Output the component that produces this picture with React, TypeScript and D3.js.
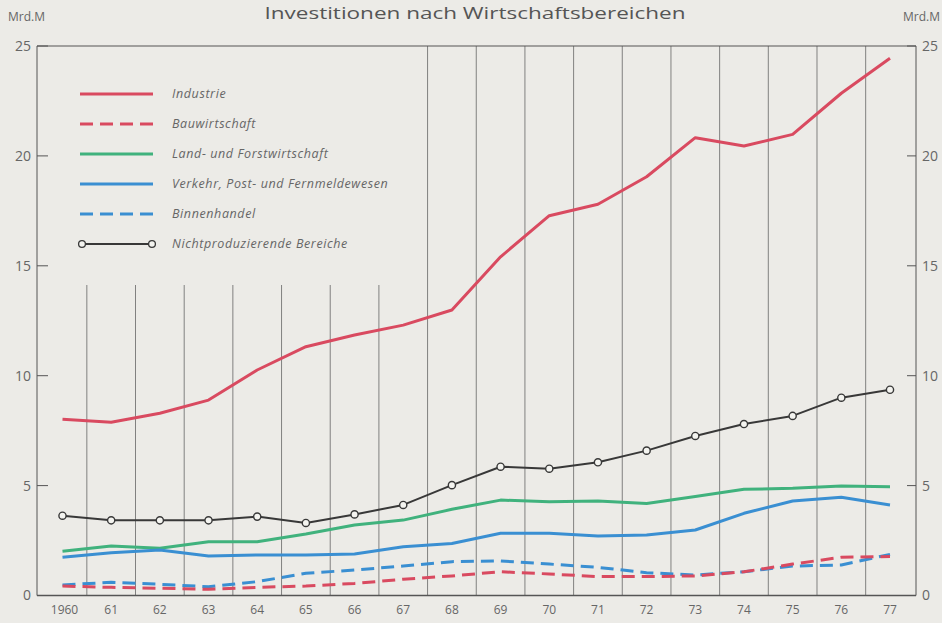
import React from "react";
import * as d3 from "d3";

const years = [1960,1961,1962,1963,1964,1965,1966,1967,1968,1969,1970,1971,1972,1973,1974,1975,1976,1977];
const yearLabels = ["1960","61","62","63","64","65","66","67","68","69","70","71","72","73","74","75","76","77"];
const industrie = [8.02,7.88,8.29,8.89,10.26,11.32,11.85,12.3,12.99,15.41,17.28,17.8,19.05,20.83,20.45,20.98,22.85,24.44];
const bauwirtschaft = [0.43,0.37,0.33,0.28,0.37,0.43,0.55,0.74,0.89,1.08,0.98,0.86,0.86,0.89,1.08,1.43,1.74,1.77];
const landForst = [2.01,2.25,2.15,2.45,2.45,2.8,3.21,3.43,3.92,4.34,4.27,4.3,4.19,4.5,4.83,4.88,4.98,4.95];
const verkehr = [1.74,1.95,2.07,1.8,1.84,1.84,1.89,2.22,2.37,2.83,2.83,2.71,2.75,2.98,3.74,4.3,4.47,4.12];
const binnenhandel = [0.48,0.6,0.51,0.4,0.63,1.01,1.16,1.34,1.54,1.57,1.43,1.28,1.04,0.93,1.08,1.34,1.39,1.87];
const nichtproduzierend = [3.63,3.42,3.42,3.42,3.59,3.3,3.69,4.12,5.02,5.86,5.77,6.06,6.59,7.26,7.8,8.17,9.0,9.36];
const yTicks = [0,5,10,15,20,25];
const gridYears = [1960.5,1961.5,1962.5,1963.5,1964.5,1965.5,1966.5,1967.5,1968.5,1969.5,1970.5,1971.5,1972.5,1973.5,1974.5,1975.5,1976.5];

const RED = "#d94a60";
const GREEN = "#40b27d";
const BLUE = "#3a8fd2";
const BLACK = "#383838";
const TEXT = "#666";

const series = [
  { name: "Land- und Forstwirtschaft", values: landForst, color: GREEN, dash: null, circles: false, width: 3 },
  { name: "Verkehr, Post- und Fernmeldewesen", values: verkehr, color: BLUE, dash: null, circles: false, width: 3 },
  { name: "Binnenhandel", values: binnenhandel, color: BLUE, dash: "13 7", circles: false, width: 3 },
  { name: "Bauwirtschaft", values: bauwirtschaft, color: RED, dash: "13 7", circles: false, width: 3 },
  { name: "Industrie", values: industrie, color: RED, dash: null, circles: false, width: 3 },
  { name: "Nichtproduzierende Bereiche", values: nichtproduzierend, color: BLACK, dash: null, circles: true, width: 2 },
];
const legendOrder = ["Industrie","Bauwirtschaft","Land- und Forstwirtschaft","Verkehr, Post- und Fernmeldewesen","Binnenhandel","Nichtproduzierende Bereiche"];

export default function App() {
  const W = 942, H = 623;
  const left = 37, right = 916, top = 46, bottom = 595.5;
  const x = d3.scaleLinear().domain([1960, 1977]).range([62.5, 890]);
  const y = d3.scaleLinear().domain([0, 25]).range([bottom, top]);
  const line = d3.line<number>().x((_, i) => x(years[i])).y((d) => y(d)).curve(d3.curveLinear);
  const font = "'Open Sans', 'DejaVu Sans', sans-serif";

  return (
    <svg width={W} height={H} style={{ position: "fixed", left: 0, top: 0 }} fontFamily={font}>
      <rect x={0} y={0} width={W} height={H} fill="#ecebe7" />
      <text x={475} y={19} textAnchor="middle" fontSize={17} fill="#555" textLength={421} lengthAdjust="spacingAndGlyphs">
        Investitionen nach Wirtschaftsbereichen
      </text>
      <text x={8} y={21} fontSize={12} fill={TEXT}>Mrd.M</text>
      <text x={940} y={21} fontSize={12} fill={TEXT} textAnchor="end">Mrd.M</text>

      {/* grid lines */}
      {gridYears.map((g) => (
        <line key={g} x1={x(g)} x2={x(g)} y1={g < 1967 ? 285 : top} y2={bottom} stroke="#666" strokeWidth={0.8} />
      ))}

      {/* frame */}
      <line x1={left} x2={right} y1={top} y2={top} stroke="#555" strokeWidth={1.2} />
      <line x1={left} x2={right} y1={bottom} y2={bottom} stroke="#555" strokeWidth={1.4} />
      <line x1={left} x2={left} y1={top} y2={bottom} stroke="#555" strokeWidth={1} />
      <line x1={right} x2={right} y1={top} y2={bottom} stroke="#555" strokeWidth={1} />

      {/* y ticks */}
      {yTicks.map((t) => (
        <g key={t}>
          <line x1={left} x2={left + 11} y1={y(t)} y2={y(t)} stroke="#555" strokeWidth={1} />
          <line x1={right - 9} x2={right} y1={y(t)} y2={y(t)} stroke="#555" strokeWidth={1} />
          <text x={31} y={y(t)} dy="0.35em" fontSize={14} fill={TEXT} textAnchor="end">{t}</text>
          <text x={922} y={y(t)} dy="0.35em" fontSize={14} fill={TEXT}>{t}</text>
        </g>
      ))}

      {/* x labels */}
      {years.map((yr, i) => (
        <text key={yr} x={x(yr) + (i === 0 ? 2 : 0)} y={614} fontSize={12} fill={TEXT} textAnchor="middle">{yearLabels[i]}</text>
      ))}

      {/* series */}
      {series.map((s) => (
        <g key={s.name}>
          <path d={line(s.values) || ""} fill="none" stroke={s.color} strokeWidth={s.width}
            strokeDasharray={s.dash || undefined} strokeLinejoin="round" />
          {s.circles && s.values.map((v, i) => (
            <circle key={i} cx={x(years[i])} cy={y(v)} r={3.6} fill="#f4f4f0" stroke={s.color} strokeWidth={1.4} />
          ))}
        </g>
      ))}

      {/* legend */}
      {legendOrder.map((name, i) => {
        const s = series.find((d) => d.name === name)!;
        const ly = 94 + i * 30;
        return (
          <g key={name}>
            <line x1={s.circles ? 82 : 80} x2={s.circles ? 152 : 153} y1={ly} y2={ly} stroke={s.color}
              strokeWidth={s.width} strokeDasharray={s.dash || undefined} />
            {s.circles && (
              <>
                <circle cx={82} cy={ly} r={3.4} fill="#f4f4f0" stroke={s.color} strokeWidth={1.3} />
                <circle cx={152} cy={ly} r={3.4} fill="#f4f4f0" stroke={s.color} strokeWidth={1.3} />
              </>
            )}
            <text x={172} y={ly + 4} fontSize={12.5} letterSpacing={0.6} fontStyle="italic" fill={TEXT}>{name}</text>
          </g>
        );
      })}
    </svg>
  );
}
